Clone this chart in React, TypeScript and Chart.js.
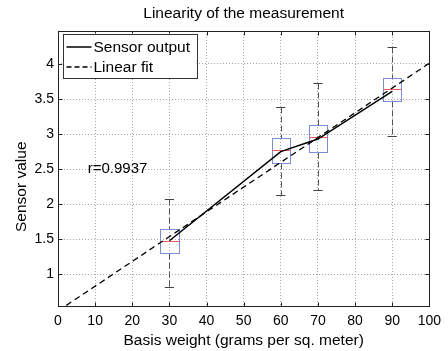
import React, { useEffect, useRef } from "react";
import { Chart, registerables } from "chart.js";

Chart.register(...registerables);

// ---- data ----
const xCats = [30, 60, 70, 90];
const sensorOutput = [1.48, 2.75, 2.93, 3.61];
const boxQ1 = [1.3, 2.59, 2.74, 3.47];
const boxMedian = [1.48, 2.77, 2.96, 3.64];
const boxQ3 = [1.65, 2.94, 3.13, 3.8];
const whiskerLow = [0.82, 2.13, 2.21, 2.98];
const whiskerHigh = [2.08, 3.38, 3.73, 4.24];
const fitX = [0, 100];
const fitY = [0.48, 4.01];
const xTicks = [0, 10, 20, 30, 40, 50, 60, 70, 80, 90, 100];
const yTicks = [1, 1.5, 2, 2.5, 3, 3.5, 4];
const legendLabels = ["Sensor output", "Linear fit"];
const rLabel = "r=0.9937";
const rLabelX = 8.0;
const rLabelY = 2.5;
const titleText = "Linearity of the measurement";
const xTitle = "Basis weight (grams per sq. meter)";
const yTitle = "Sensor value";
const yTitleAt = 2.25; // data value the rotated y-axis title is centred on

const FONT = '"Liberation Sans", Arial, Helvetica, sans-serif';
const BOX_HALF = 2.5;
const CAP_HALF = 1.25;

const boxPlugin = {
  id: "boxes",
  beforeDatasetsDraw(chart: any) {
    const { ctx, chartArea: a, scales } = chart;
    const x = scales.x;
    const y = scales.y;
    ctx.save();
    ctx.beginPath();
    ctx.rect(a.left, a.top, a.right - a.left, a.bottom - a.top);
    ctx.clip();
    xCats.forEach((c, i) => {
      const cx = Math.round(x.getPixelForValue(c)) + 0.5;
      const bl = Math.round(x.getPixelForValue(c - BOX_HALF)) + 0.5;
      const br = Math.round(x.getPixelForValue(c + BOX_HALF)) + 0.5;
      const cl = x.getPixelForValue(c - CAP_HALF);
      const cr = x.getPixelForValue(c + CAP_HALF);
      const yHi = Math.round(y.getPixelForValue(whiskerHigh[i])) + 0.5;
      const yLo = Math.round(y.getPixelForValue(whiskerLow[i])) + 0.5;
      const yQ1 = Math.round(y.getPixelForValue(boxQ1[i])) + 0.5;
      const yQ3 = Math.round(y.getPixelForValue(boxQ3[i])) + 0.5;
      const yMed = Math.round(y.getPixelForValue(boxMedian[i])) + 0.5;
      // whiskers
      ctx.strokeStyle = "#555555";
      ctx.lineWidth = 1;
      ctx.setLineDash([6, 3]);
      ctx.beginPath();
      ctx.moveTo(cx, yHi);
      ctx.lineTo(cx, yQ3);
      ctx.moveTo(cx, yQ1);
      ctx.lineTo(cx, yLo);
      ctx.stroke();
      // caps
      ctx.setLineDash([]);
      ctx.strokeStyle = "#444444";
      ctx.beginPath();
      ctx.moveTo(cl, yHi);
      ctx.lineTo(cr, yHi);
      ctx.moveTo(cl, yLo);
      ctx.lineTo(cr, yLo);
      ctx.stroke();
      // box
      ctx.strokeStyle = "#7b8cd4";
      ctx.strokeRect(bl, yQ3, br - bl, yQ1 - yQ3);
      // median
      ctx.strokeStyle = "#f05a5a";
      ctx.beginPath();
      ctx.moveTo(bl, yMed);
      ctx.lineTo(br, yMed);
      ctx.stroke();
    });
    ctx.restore();
  },
  afterDraw(chart: any) {
    const { ctx, chartArea: a, scales } = chart;
    const x = scales.x;
    const y = scales.y;
    ctx.save();
    // frame
    ctx.strokeStyle = "#222222";
    ctx.lineWidth = 1;
    ctx.setLineDash([]);
    const L = Math.round(a.left) + 0.5;
    const R = Math.round(a.right) + 0.5;
    const T = Math.round(a.top) + 0.5;
    const B = Math.round(a.bottom) + 0.5;
    ctx.strokeRect(L, T, R - L, B - T);
    // inward ticks
    ctx.beginPath();
    xTicks.forEach((v) => {
      const px = Math.round(x.getPixelForValue(v)) + 0.5;
      ctx.moveTo(px, B);
      ctx.lineTo(px, B - 4);
      ctx.moveTo(px, T);
      ctx.lineTo(px, T + 4);
    });
    yTicks.forEach((v) => {
      const py = Math.round(y.getPixelForValue(v)) + 0.5;
      ctx.moveTo(L, py);
      ctx.lineTo(L + 4, py);
      ctx.moveTo(R, py);
      ctx.lineTo(R - 4, py);
    });
    ctx.stroke();

    // y-axis title
    ctx.fillStyle = "#000000";
    ctx.font = `15.5px ${FONT}`;
    ctx.textAlign = "center";
    ctx.textBaseline = "middle";
    ctx.save();
    ctx.translate(22, y.getPixelForValue(yTitleAt));
    ctx.rotate(-Math.PI / 2);
    ctx.fillText(yTitle, 0, 0);
    ctx.restore();

    // r label
    ctx.font = `15px ${FONT}`;
    ctx.textBaseline = "middle";
    ctx.textAlign = "left";
    ctx.fillText(rLabel, x.getPixelForValue(rLabelX), y.getPixelForValue(rLabelY));

    // legend
    const lx = L + 4;
    const ly = T + 2;
    const lw = 134;
    const lh = 44;
    ctx.fillStyle = "#ffffff";
    ctx.fillRect(lx, ly, lw, lh);
    ctx.strokeStyle = "#333333";
    ctx.strokeRect(Math.round(lx) + 0.5, Math.round(ly) + 0.5, lw, lh);
    ctx.font = `15.5px ${FONT}`;
    ctx.fillStyle = "#000000";
    legendLabels.forEach((lab, i) => {
      const yy = ly + 13.5 + i * 20;
      ctx.strokeStyle = "#000000";
      ctx.lineWidth = i === 0 ? 1.5 : 1.3;
      ctx.setLineDash(i === 0 ? [] : [5, 3]);
      ctx.beginPath();
      ctx.moveTo(lx + 4, yy);
      ctx.lineTo(lx + 29, yy);
      ctx.stroke();
      ctx.fillText(lab, lx + 31, yy + 1);
    });
    ctx.restore();
  },
};

export default function App() {
  const ref = useRef<HTMLCanvasElement | null>(null);
  useEffect(() => {
    if (!ref.current) return;
    const chart = new Chart(ref.current, {
      type: "scatter",
      data: {
        datasets: [
          {
            label: legendLabels[0],
            data: xCats.map((v, i) => ({ x: v, y: sensorOutput[i] })),
            showLine: true,
            borderColor: "#000000",
            borderWidth: 1.5,
            pointRadius: 0,
            fill: false,
          },
          {
            label: legendLabels[1],
            data: fitX.map((v, i) => ({ x: v, y: fitY[i] })),
            showLine: true,
            borderColor: "#000000",
            borderWidth: 1.3,
            borderDash: [6, 4],
            pointRadius: 0,
            fill: false,
          },
        ],
      },
      options: {
        animation: false,
        responsive: false,
        maintainAspectRatio: false,
        layout: { padding: { left: 0, right: 18, top: 0, bottom: 0 } },
        plugins: {
          legend: { display: false },
          tooltip: { enabled: false },
          title: {
            display: true,
            text: titleText,
            fullSize: false,
            color: "#000000",
            font: { family: FONT, size: 15.5, weight: "normal" },
            padding: { top: 4, bottom: 8.4 },
          },
        },
        scales: {
          x: {
            type: "linear",
            min: 0,
            max: 100,
            afterBuildTicks: (s: any) => {
              s.ticks = xTicks.map((v) => ({ value: v }));
            },
            afterFit: (s: any) => {
              s.height = 45;
            },
            ticks: {
              color: "#000000",
              font: { family: FONT, size: 14 },
              padding: 7,
              maxRotation: 0,
              callback: (v: any) => String(v),
            },
            grid: { color: "#a8a8a8", lineWidth: 1, drawTicks: false },
            border: { display: false, dash: [1, 2] },
            title: {
              display: true,
              text: xTitle,
              color: "#000000",
              font: { family: FONT, size: 15.5 },
              padding: { top: 0, bottom: 1 },
            },
          },
          y: {
            type: "linear",
            min: 0.55,
            max: 4.47,
            afterBuildTicks: (s: any) => {
              s.ticks = yTicks.map((v) => ({ value: v }));
            },
            afterFit: (s: any) => {
              s.width = 58;
            },
            ticks: {
              color: "#000000",
              font: { family: FONT, size: 14 },
              padding: 4,
              callback: (v: any) => String(v),
            },
            grid: { color: "#a8a8a8", lineWidth: 1, drawTicks: false },
            border: { display: false, dash: [1, 2] },
            title: { display: false },
          },
        },
      },
      plugins: [boxPlugin],
    } as any);
    return () => chart.destroy();
  }, []);
  return (
    <div style={{ position: "fixed", left: 0, top: 0, width: 448, height: 351, background: "#ffffff" }}>
      <canvas ref={ref} width={448} height={351} />
    </div>
  );
}
